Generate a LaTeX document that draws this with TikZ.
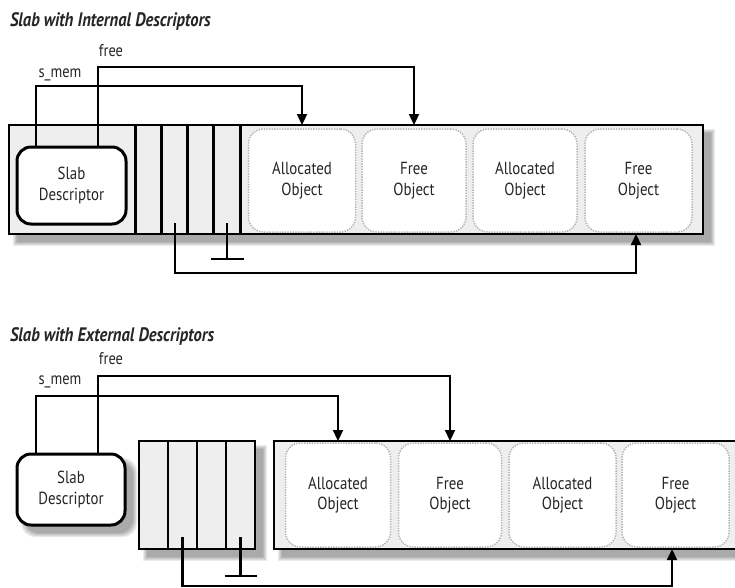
\documentclass[tikz,border=0pt]{standalone}
\usepackage{fontspec}
\setmainfont{PT Sans}[FakeStretch=0.85]
\usetikzlibrary{arrows.meta,calc}
\definecolor{slabgray}{HTML}{EEEEEE}
\definecolor{txt}{HTML}{262626}
\tikzset{
  every node/.style={inner sep=0pt, outer sep=0pt, text=txt},
  lbl/.style={font=\fontsize{17}{19}\selectfont},
  ttl/.style={font=\fontsize{19.5}{22}\selectfont\bfseries\itshape, anchor=west},
  slabbox/.style={draw=black, line width=2.6pt, fill=slabgray, rectangle},
  cellbox/.style={draw=black, line width=2.6pt, fill=slabgray, rectangle},
  desc/.style={draw=black, line width=3pt, fill=white, rounded corners=14pt, align=center, font=\fontsize{17.5}{20.5}\selectfont},
  obj/.style={draw=gray!60, line width=1.5pt, dash pattern=on 1.3pt off 1.3pt, fill=white, rounded corners=15pt, align=center, font=\fontsize{17.5}{20.5}\selectfont},
  conn/.style={draw=black, line width=2.2pt},
  arr/.style={conn, -{Triangle[length=11pt,width=10pt]}},
}
\newcommand\dropsh[5]{%
  \foreach \k in {0,...,4}{
    \fill[black, opacity=0.08, rounded corners=#5] (#1+4+\k,#2+4+\k) rectangle (#3+12-\k,#4+12-\k);
  }}
\begin{document}
\begin{tikzpicture}[x=1pt,y=-1pt]
\useasboundingbox (0,0) rectangle (735,587);
\clip (0,0) rectangle (735,587);

% ===== Internal descriptors =====
\node[ttl] (title1) at (10,21) {Slab with Internal Descriptors};
\node[lbl] (free1) at (111,51) {free};
\node[lbl] (smem1) at (60,75) {s\_mem};

\dropsh{9}{125}{703}{234}{0pt}
\node[slabbox, minimum width=694pt, minimum height=109pt] (slab1) at (356,179.5) {};
\foreach \n/\x in {1/148.5, 2/175, 3/201, 4/227}
  \node[cellbox, minimum width=26.5pt, minimum height=109pt] (tc\n) at (\x,179.5) {};
\node[obj, minimum width=107pt, minimum height=103pt] (to1) at (302,180.5) {Allocated\\Object};
\node[obj, minimum width=104pt, minimum height=103pt] (to2) at (414,180.5) {Free\\Object};
\node[obj, minimum width=104pt, minimum height=103pt] (to3) at (525,180.5) {Allocated\\Object};
\node[obj, minimum width=107pt, minimum height=103pt] (to4) at (638.5,180.5) {Free\\Object};
\node[desc, minimum width=109pt, minimum height=77pt] (sd1) at (71.5,185.5) {Slab\\Descriptor};

\coordinate (sm1) at (36,86);
\coordinate (fr1) at (98,67);
\draw[arr] (sd1.north -| sm1) -- (sm1) -| (slab1.north -| to1);
\draw[arr] (sd1.north -| fr1) -- (fr1) -| (slab1.north -| to2);
\coordinate (bt1) at (636,273);
\draw[arr] ([yshift=11pt]tc2.south) |- (bt1) -- (slab1.south -| bt1);
\coordinate (nl1) at (227,259);
\draw[conn] ([yshift=11pt]tc4.south) -- (nl1);
\draw[conn] ([xshift=-16.5pt]nl1) -- ([xshift=16.5pt]nl1);

% ===== External descriptors =====
\node[ttl] (title2) at (10,336) {Slab with External Descriptors};
\node[lbl] (free2) at (111,359) {free};
\node[lbl] (smem2) at (60,382) {s\_mem};

\dropsh{17}{454}{125}{525}{14pt}
\dropsh{139}{441}{255}{549}{0pt}
\dropsh{274}{441}{764}{549}{0pt}
\node[desc, minimum width=108pt, minimum height=71pt] (sd2) at (71,489.5) {Slab\\Descriptor};
\foreach \n/\x in {1/153.5, 2/182.5, 3/211.5, 4/240.5}
  \node[cellbox, minimum width=29pt, minimum height=108pt] (bc\n) at (\x,495) {};
\node[slabbox, minimum width=490pt, minimum height=108pt] (slab2) at (519,495) {};
\node[obj, minimum width=105pt, minimum height=104pt] (bo1) at (338,495) {Allocated\\Object};
\node[obj, minimum width=103pt, minimum height=104pt] (bo2) at (450,495) {Free\\Object};
\node[obj, minimum width=107pt, minimum height=104pt] (bo3) at (562.5,495) {Allocated\\Object};
\node[obj, minimum width=107pt, minimum height=104pt] (bo4) at (675.5,495) {Free\\Object};

\coordinate (sm2) at (36,396);
\coordinate (fr2) at (98,376);
\draw[arr] (sd2.north -| sm2) -- (sm2) -| (slab2.north -| bo1);
\draw[arr] (sd2.north -| fr2) -- (fr2) -| (slab2.north -| bo2);
\coordinate (bt2) at (672,586);
\draw[arr] ([yshift=12pt]bc2.south) |- (bt2) -- (slab2.south -| bt2);
\coordinate (nl2) at (240.5,576);
\draw[conn] ([yshift=12pt]bc4.south) -- (nl2);
\draw[conn] ([xshift=-16pt]nl2) -- ([xshift=16pt]nl2);
\end{tikzpicture}
\end{document}
